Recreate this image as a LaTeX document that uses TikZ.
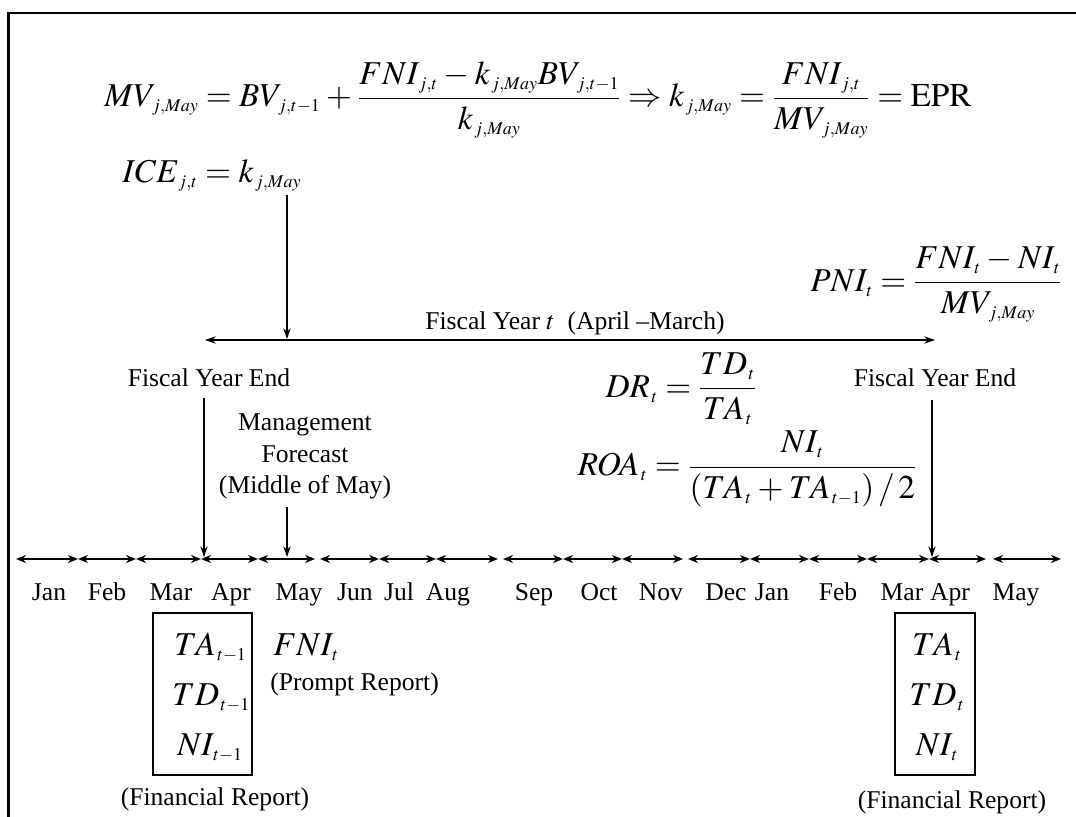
\documentclass[tikz,border=0pt]{standalone}
\usepackage{amsmath}
\usepackage{mathptmx}
\usepackage[no-math]{fontspec}
\setmainfont{Liberation Serif}
\DeclareMathSizes{25}{25}{13.5}{10}
\usetikzlibrary{arrows.meta}
\tikzset{
  txt/.style={font=\fontsize{19.2}{21}\selectfont, inner sep=0pt},
  mth/.style={font=\fontsize{25}{30}\selectfont, inner sep=0pt},
  frameline/.style={line width=1.6pt},
  tl/.style={line width=1.5pt, {Stealth[length=7.5pt,width=6pt]}-{Stealth[length=7.5pt,width=6pt]}},
  darrow/.style={line width=1pt, -{Stealth[length=8pt,width=5.5pt]}},
  fyline/.style={line width=1.1pt, {Stealth[length=8pt,width=5.5pt]}-{Stealth[length=8pt,width=5.5pt]}},
  valbox/.style={draw, line width=0.8pt, inner sep=0pt}
}
\newcommand{\sbg}{\mkern1.5mu}
\begin{document}
\begin{tikzpicture}[x=0.75pt,y=-0.75pt]
\thickmuskip=4mu plus 2mu
\medmuskip=3mu plus 2mu minus 2mu
\useasboundingbox (0,0) rectangle (1076,817);
% frame
\draw[frameline] (8.5,817) -- (8.5,13) -- (1076,13);

% formulas
\node[mth, anchor=base east] (eq) at (972,107) {$MV_{\sbg j,May} = BV_{\sbg j,t-1} + \dfrac{FNI_{\sbg j,t} - k_{\sbg j,May}BV_{\sbg j,t-1}}{k_{\sbg j,May}} \Rightarrow k_{\sbg j,May} = \dfrac{FNI_{\sbg j,t}}{MV_{\sbg j,May}} = \mathrm{EPR}$};
\node[mth, anchor=base west] (ice) at (122,182) {$ICE_{\sbg j,t} = k_{\sbg j,May}$};
\node[mth, anchor=base west] (pni) at (810,291) {$PNI_{\sbg t} = \dfrac{FNI_{\sbg t} - NI_{\sbg t}}{MV_{\sbg j,May}}$};
\node[mth, anchor=east] (dr) at (757,389) {$DR_{\sbg t} = \dfrac{TD_{\sbg t}}{TA_{\sbg t}}$};
\node[mth, anchor=east] (roa) at (917,469) {$ROA_{\sbg t} = \dfrac{NI_{\sbg t}}{(TA_{\sbg t} + TA_{\sbg t-1})\mkern2mu/\mkern2mu2}$};

% fiscal year line
\coordinate (fyA) at (205,340);
\coordinate (fyB) at (935,340);
\draw[fyline] (fyA) -- (fyB);
\node[txt, anchor=base] (fylab) at (575,329) {Fiscal Year $t$\ \ (April –March)};
\coordinate (iceS) at (287,195);
\coordinate (iceE) at (287,339);
\draw[darrow] (iceS) -- (iceE);

% labels above timeline
\node[txt, anchor=base] (fyeL) at (209,386) {Fiscal Year End};
\node[txt, anchor=base] (fyeR) at (935,386) {Fiscal Year End};
\node[txt, anchor=base] (mf1) at (305,430) {Management};
\node[txt, anchor=base] (mf2) at (305,462) {Forecast};
\node[txt, anchor=base] (mf3) at (305,493) {(Middle of May)};

% timeline boundaries
\foreach \n/\x in {a/16,b/78,c/136,d/201,e/258,f/315,g/320,h/379,i/436,j/498,k/503,l/563,m/622,n/683,o/688,p/750,q/809,r/867,s/929,t/986,u/993,v/1061}
  \coordinate (\n) at (\x,559);
\foreach \p/\q in {a/b,b/c,c/d,d/e,e/f,g/h,h/i,i/j,k/l,l/m,m/n,o/p,p/q,q/r,r/s,s/t,u/v}
  \draw[tl] (\p) -- (\q);

% arrows to timeline
\coordinate (sL) at (204,398);
\coordinate (tL) at (204,557);
\coordinate (sM) at (287,507);
\coordinate (tM) at (287,557);
\coordinate (sR) at (932,400);
\coordinate (tR) at (932,557);
\draw[darrow] (sL) -- (tL);
\draw[darrow] (sM) -- (tM);
\draw[darrow] (sR) -- (tR);

% month labels
\foreach \m/\x [count=\i] in {Jan/49,Feb/107,Mar/171,Apr/231,May/299,Jun/355,Jul/399,Aug/448,Sep/534,Oct/599,Nov/661,Dec/726,Jan/772,Feb/838,Mar/902,Apr/950,May/1016}
  \node[txt, anchor=base] (m\i) at (\x,600) {\m};

% boxes
\node[valbox, minimum width=74.25pt, minimum height=121.5pt] (boxL) at (202.5,694) {};
\node[mth, anchor=base west] (taL) at (174,655) {$TA_{\sbg t-1}$};
\node[mth, anchor=base west] (tdL) at (172,705) {$TD_{\sbg t-1}$};
\node[mth, anchor=base west] (niL) at (177,755) {$NI_{\sbg t-1}$};
\node[valbox, minimum width=60pt, minimum height=121.5pt] (boxR) at (935,694) {};
\node[mth, anchor=base] (taR) at (937,655) {$TA_{\sbg t}$};
\node[mth, anchor=base] (tdR) at (937,705) {$TD_{\sbg t}$};
\node[mth, anchor=base] (niR) at (937,755) {$NI_{\sbg t}$};

\node[mth, anchor=base west] (fni) at (273,655) {$FNI_{\sbg t}$};
\node[txt, anchor=base west] (prompt) at (270,690) {(Prompt Report)};
\node[txt, anchor=base] (finL) at (215,805) {(Financial Report)};
\node[txt, anchor=base] (finR) at (952,808) {(Financial Report)};
\end{tikzpicture}
\end{document}
